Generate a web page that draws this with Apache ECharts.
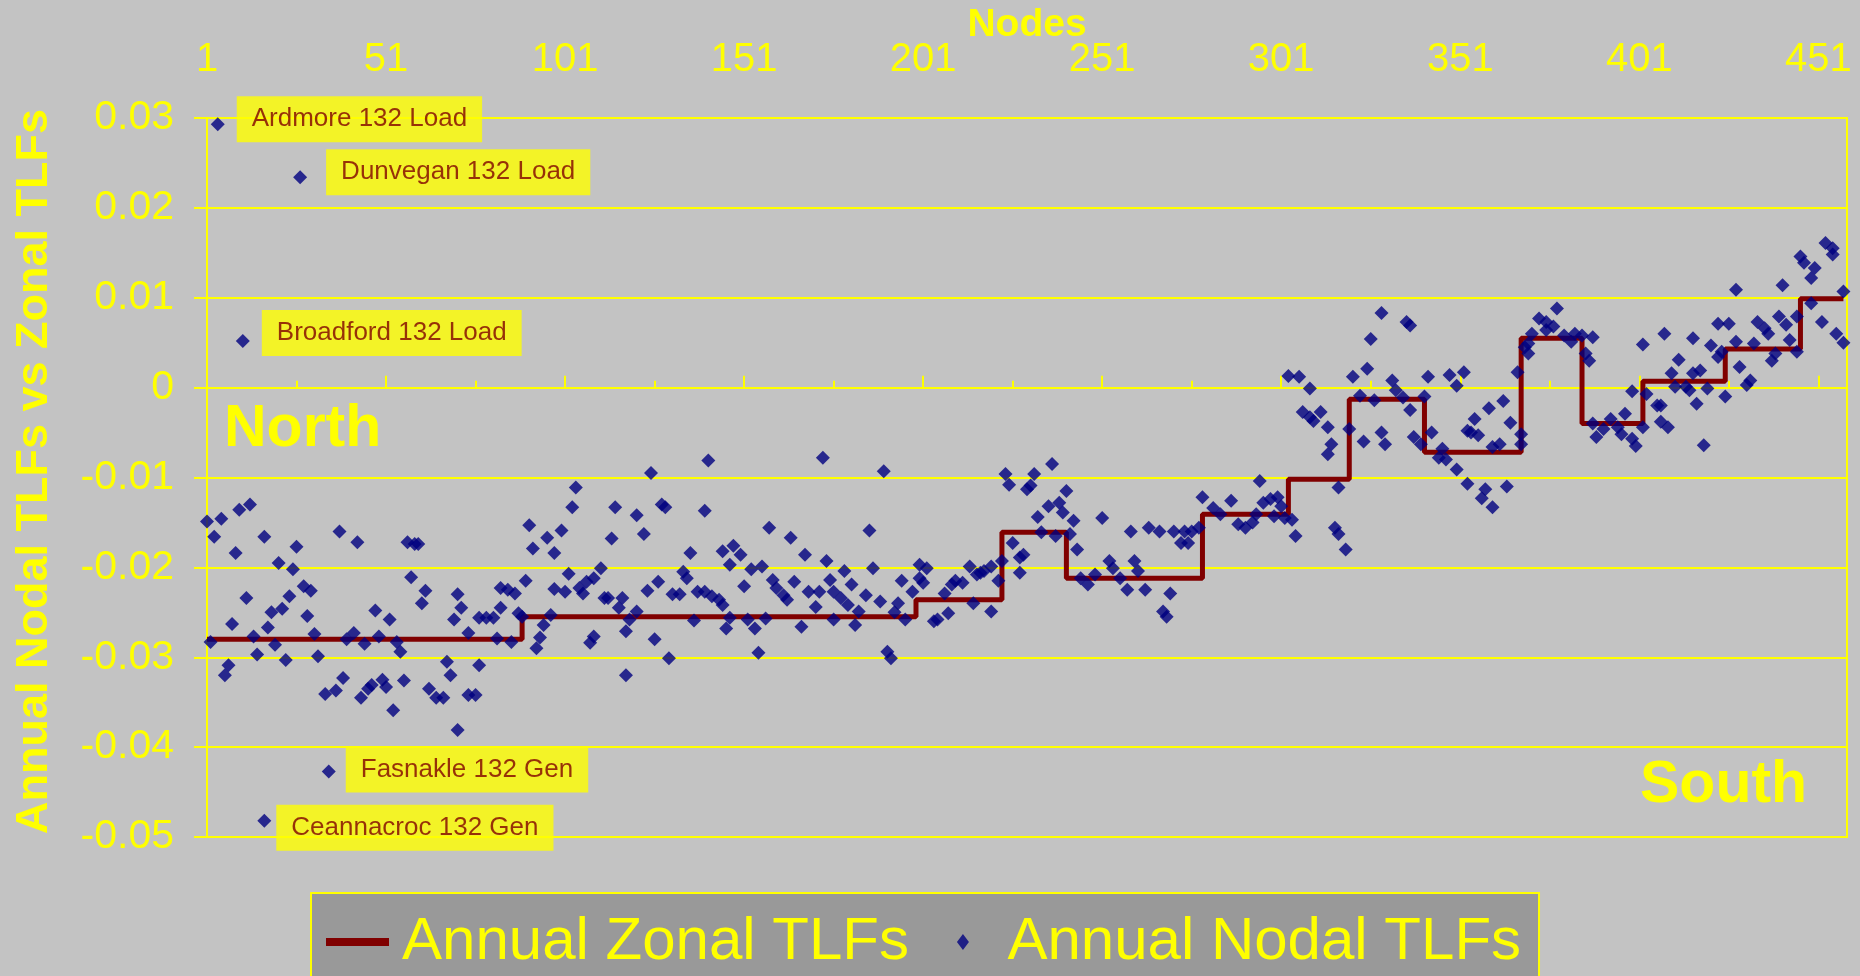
<!DOCTYPE html>
<html>
<head>
    <meta charset="utf-8"/>
    <style>
        html, body {
            height: 100%;
            margin: 0;
            padding: 0;
            background: #c3c3c3;
        }

        .container {
            width: 1860px;
            height: 976px;
        }
    </style>
</head>

<body>
<div id="main" class="container"></div>
<script src="https://cdn.jsdelivr.net/npm/echarts@6.0.0/dist/echarts.min.js"></script>
<script type="text/javascript">
// zonal TLFs: first node of each zone and its value
var zoneStart = [1, 89, 199, 223, 241, 279, 303, 320, 341, 368, 385, 402, 425, 446];
var zoneValue = [-0.0280, -0.0255, -0.0236, -0.0161, -0.0212, -0.0141, -0.0102, -0.0013, -0.0072, 0.0055, -0.0040, 0.0007, 0.0043, 0.0099];
var lastNode = 458;

// nodal TLFs, [node, TLF], split by node range
var nodal001to069 = [[1,-0.0149],[5,-0.0146],[3,-0.0166],[10,-0.0136],[13,-0.0130],[9,-0.0184],[17,-0.0166],[12,-0.0234],[8,-0.0263],[2,-0.0283],[21,-0.0195],[25,-0.0202],[26,-0.0177],[19,-0.0250],[22,-0.0246],[24,-0.0232],[28,-0.0221],[30,-0.0226],[29,-0.0254],[18,-0.0267],[14,-0.0277],[15,-0.0297],[20,-0.0286],[23,-0.0303],[31,-0.0274],[32,-0.0299],[6,-0.0320],[7,-0.0309],[38,-0.0160],[43,-0.0172],[40,-0.0280],[42,-0.0273],[45,-0.0285],[48,-0.0248],[52,-0.0258],[49,-0.0277],[54,-0.0283],[55,-0.0294],[57,-0.0172],[59,-0.0174],[60,-0.0174],[58,-0.0211],[62,-0.0226],[61,-0.0240],[39,-0.0323],[34,-0.0341],[37,-0.0337],[44,-0.0345],[46,-0.0335],[47,-0.0331],[50,-0.0325],[51,-0.0333],[56,-0.0326],[53,-0.0359],[63,-0.0335],[65,-0.0345],[67,-0.0345],[68,-0.0305],[69,-0.0320]];
var nodal070to149 = [[74,-0.0342],[76,-0.0342],[77,-0.0309],[71,-0.0381],[70,-0.0258],[72,-0.0245],[71,-0.0230],[74,-0.0273],[77,-0.0256],[79,-0.0256],[81,-0.0256],[82,-0.0279],[86,-0.0283],[83,-0.0245],[83,-0.0223],[85,-0.0225],[87,-0.0229],[90,-0.0215],[88,-0.0251],[89,-0.0255],[91,-0.0153],[92,-0.0179],[96,-0.0167],[98,-0.0184],[100,-0.0159],[103,-0.0133],[104,-0.0111],[93,-0.0290],[94,-0.0278],[95,-0.0264],[97,-0.0253],[98,-0.0224],[101,-0.0227],[102,-0.0207],[105,-0.0223],[106,-0.0229],[107,-0.0216],[109,-0.0212],[111,-0.0201],[112,-0.0234],[113,-0.0234],[108,-0.0284],[109,-0.0277],[114,-0.0168],[115,-0.0133],[117,-0.0234],[116,-0.0245],[119,-0.0258],[121,-0.0249],[118,-0.0271],[118,-0.0320],[121,-0.0142],[123,-0.0163],[125,-0.0095],[128,-0.0130],[129,-0.0133],[124,-0.0226],[127,-0.0216],[126,-0.0280],[130,-0.0301],[134,-0.0205],[135,-0.0212],[131,-0.0230],[133,-0.0230],[136,-0.0184],[137,-0.0259],[138,-0.0227],[140,-0.0227],[140,-0.0137],[141,-0.0081],[142,-0.0232],[144,-0.0236],[145,-0.0242],[145,-0.0182],[147,-0.0197],[148,-0.0176],[147,-0.0256],[146,-0.0268]];
var nodal150to227 = [[150,-0.0186],[151,-0.0221],[153,-0.0202],[156,-0.0199],[152,-0.0258],[154,-0.0268],[155,-0.0295],[158,-0.0156],[157,-0.0257],[159,-0.0214],[160,-0.0223],[162,-0.0231],[163,-0.0236],[164,-0.0167],[165,-0.0216],[168,-0.0186],[167,-0.0266],[169,-0.0227],[171,-0.0244],[172,-0.0227],[173,-0.0078],[174,-0.0193],[175,-0.0214],[176,-0.0227],[178,-0.0234],[179,-0.0204],[180,-0.0242],[181,-0.0219],[176,-0.0258],[182,-0.0264],[183,-0.0249],[185,-0.0231],[186,-0.0159],[187,-0.0201],[189,-0.0238],[190,-0.0093],[191,-0.0294],[192,-0.0301],[193,-0.0250],[194,-0.0240],[195,-0.0215],[196,-0.0258],[198,-0.0227],[200,-0.0212],[200,-0.0197],[202,-0.0201],[201,-0.0217],[204,-0.0260],[205,-0.0258],[207,-0.0229],[208,-0.0251],[209,-0.0219],[210,-0.0215],[212,-0.0217],[214,-0.0199],[216,-0.0208],[215,-0.0240],[217,-0.0206],[218,-0.0204],[220,-0.0199],[220,-0.0249],[222,-0.0215],[223,-0.0193],[224,-0.0096],[225,-0.0108],[226,-0.0173]];
var nodal228to288 = [[228,-0.0189],[229,-0.0186],[228,-0.0206],[230,-0.0113],[231,-0.0109],[232,-0.0096],[237,-0.0085],[236,-0.0132],[239,-0.0128],[240,-0.0139],[241,-0.0115],[243,-0.0148],[233,-0.0144],[234,-0.0161],[238,-0.0165],[242,-0.0163],[244,-0.0180],[245,-0.0212],[247,-0.0219],[249,-0.0208],[251,-0.0145],[253,-0.0193],[254,-0.0201],[256,-0.0212],[258,-0.0225],[259,-0.0160],[260,-0.0193],[261,-0.0204],[263,-0.0225],[264,-0.0156],[267,-0.0160],[271,-0.0160],[274,-0.0160],[276,-0.0160],[278,-0.0156],[273,-0.0173],[275,-0.0173],[270,-0.0229],[268,-0.0249],[269,-0.0255],[279,-0.0122],[282,-0.0134],[284,-0.0141],[287,-0.0126]];
var nodal289to347 = [[289,-0.0152],[291,-0.0156],[293,-0.0150],[294,-0.0141],[295,-0.0104],[296,-0.0128],[298,-0.0124],[300,-0.0122],[301,-0.0132],[299,-0.0143],[302,-0.0145],[304,-0.0147],[305,-0.0165],[303,0.0013],[306,0.0012],[309,-0.0001],[307,-0.0027],[309,-0.0033],[310,-0.0037],[312,-0.0027],[314,-0.0044],[315,-0.0063],[314,-0.0074],[317,-0.0111],[316,-0.0156],[317,-0.0163],[319,-0.0180],[320,-0.0046],[321,0.0012],[323,-0.0009],[325,0.0021],[326,0.0054],[329,0.0083],[324,-0.0060],[327,-0.0014],[329,-0.0050],[330,-0.0063],[332,0.0008],[333,-0.0003],[335,-0.0011],[336,0.0073],[337,0.0069],[337,-0.0025],[338,-0.0055],[340,-0.0063],[341,-0.0010],[342,0.0012],[343,-0.0050],[345,-0.0078],[347,-0.0080],[346,-0.0068]];
var nodal348to403 = [[348,0.0014],[350,0.0002],[352,0.0017],[350,-0.0091],[353,-0.0107],[358,-0.0113],[357,-0.0123],[360,-0.0133],[364,-0.0110],[355,-0.0035],[353,-0.0048],[354,-0.0050],[356,-0.0053],[359,-0.0023],[363,-0.0015],[365,-0.0039],[367,0.0017],[360,-0.0066],[362,-0.0063],[368,-0.0052],[368,-0.0063],[369,0.0045],[370,0.0038],[370,0.0049],[373,0.0077],[371,0.0060],[375,0.0064],[375,0.0073],[377,0.0068],[378,0.0088],[380,0.0058],[382,0.0051],[383,0.0060],[385,0.0058],[388,0.0056],[386,0.0038],[387,0.0030],[388,-0.0040],[389,-0.0055],[391,-0.0046],[393,-0.0035],[395,-0.0044],[396,-0.0052],[397,-0.0029],[399,-0.0057],[400,-0.0065],[402,-0.0044],[399,-0.0004],[402,0.0048],[403,-0.0007]];
var nodal404to458 = [[406,-0.0020],[407,-0.0020],[407,-0.0038],[409,-0.0044],[408,0.0060],[410,0.0016],[411,0.0001],[412,0.0031],[414,0.0001],[415,-0.0003],[416,0.0016],[416,0.0055],[418,0.0019],[417,-0.0018],[419,-0.0064],[420,-0.0001],[423,0.0071],[426,0.0071],[421,0.0047],[423,0.0034],[424,0.0040],[425,-0.0010],[428,0.0051],[428,0.0109],[429,0.0023],[431,0.0003],[432,0.0008],[433,0.0049],[434,0.0073],[436,0.0066],[437,0.0060],[438,0.0030],[439,0.0038],[440,0.0079],[442,0.0070],[441,0.0114],[443,0.0053],[445,0.0040],[445,0.0079],[446,0.0146],[447,0.0139],[449,0.0122],[450,0.0133],[449,0.0094],[452,0.0073],[453,0.0161],[455,0.0155],[455,0.0148],[456,0.0060],[458,0.0050],[458,0.0107]];

// outlying nodes that carry a name tag
var namedNodes = ['Ardmore 132 Load', 'Dunvegan 132 Load', 'Broadford 132 Load', 'Fasnakle 132 Gen', 'Ceannacroc 132 Gen'];
var namedNodeX = [4, 27, 11, 35, 17];
var namedNodeTLF = [0.0293, 0.0234, 0.0052, -0.0427, -0.0482];
// nudges for the name tags (pixels)
var tagShift = [[0, -5], [7, -5], [0, -8], [-2, -2], [-7, 7]];

// axes
var nodeMin = 1, nodeMax = 459, nodeStep = 50;
var tlfMin = -0.05, tlfMax = 0.03, tlfStep = 0.01;

var yellow = '#ffff00';
var fontName = '"Liberation Sans", Arial, sans-serif';

var myChart = echarts.init(document.getElementById('main'));

// step line for the zones
var zonalData = [];
for (var i = 0; i < zoneStart.length; i++) {
    zonalData.push([zoneStart[i], zoneValue[i]]);
}
zonalData.push([lastNode, zoneValue[zoneValue.length - 1]]);

var nodalData = [].concat(nodal001to069, nodal070to149, nodal150to227, nodal228to288,
    nodal289to347, nodal348to403, nodal404to458);
for (var j = 0; j < namedNodes.length; j++) {
    nodalData.push({
        value: [namedNodeX[j], namedNodeTLF[j]],
        label: {show: true, formatter: namedNodes[j], offset: tagShift[j]}
    });
}

var option = {
    backgroundColor: '#c3c3c3',
    animation: false,
    textStyle: {fontFamily: fontName},
    grid: {
        left: 207,
        right: 13,
        top: 118,
        bottom: 139,
        containLabel: false,
        outerBoundsMode: 'none',
        show: true,
        borderColor: yellow,
        borderWidth: 2,
        backgroundColor: 'transparent'
    },
    legend: {
        left: 311,
        top: 893,
        padding: [19, 18, 15, 15],
        backgroundColor: '#999999',
        borderColor: yellow,
        borderWidth: 2,
        itemWidth: 63,
        itemHeight: 16,
        itemGap: 48,
        selectedMode: false,
        textStyle: {
            color: yellow,
            fontSize: 60,
            fontFamily: fontName,
            padding: [0, 0, 0, 8]
        },
        data: [
            {name: 'Annual Zonal TLFs', icon: 'path://M0,0H63V8H0Z', itemStyle: {color: '#800000'}},
            {name: 'Annual Nodal TLFs', icon: 'path://M6,0L12,8L6,16L0,8Z', itemStyle: {color: '#000080'}}
        ]
    },
    graphic: [
        {
            type: 'text', x: 224, y: 430,
            style: {text: 'North', fill: yellow, fontSize: 59, fontWeight: 'bold', fontFamily: fontName, verticalAlign: 'middle'}
        },
        {
            type: 'text', x: 1640, y: 786,
            style: {text: 'South', fill: yellow, fontSize: 59, fontWeight: 'bold', fontFamily: fontName, verticalAlign: 'middle'}
        }
    ],
    xAxis: {
        type: 'value',
        position: 'top',
        min: nodeMin,
        max: nodeMax,
        interval: nodeStep,
        name: 'Nodes',
        nameLocation: 'middle',
        nameGap: 73,
        nameMoveOverlap: false,
        nameTextStyle: {color: yellow, fontSize: 39, fontWeight: 'bold', fontFamily: fontName},
        axisLine: {show: true, lineStyle: {color: yellow, width: 2}},
        axisTick: {show: true, length: 12, lineStyle: {color: yellow, width: 2}},
        minorTick: {show: true, splitNumber: 2, length: 7, lineStyle: {color: yellow, width: 2}},
        axisLabel: {color: yellow, fontSize: 40, margin: 38, showMaxLabel: false, fontFamily: fontName},
        splitLine: {show: false}
    },
    yAxis: {
        type: 'value',
        min: tlfMin,
        max: tlfMax,
        interval: tlfStep,
        name: 'Annual Nodal TLFs vs Zonal TLFs',
        nameLocation: 'middle',
        nameGap: 150,
        nameMoveOverlap: false,
        nameTextStyle: {color: yellow, fontSize: 45, fontWeight: 'bold', fontFamily: fontName, padding: [0, 0, 0, 12]},
        axisLine: {show: true, lineStyle: {color: yellow, width: 2}},
        axisTick: {show: true, length: 13, lineStyle: {color: yellow, width: 2}},
        axisLabel: {color: yellow, fontSize: 41, margin: 33, fontFamily: fontName},
        splitLine: {show: true, lineStyle: {color: yellow, width: 2}}
    },
    series: [
        {
            name: 'Annual Zonal TLFs',
            type: 'line',
            step: 'end',
            showSymbol: false,
            symbol: 'none',
            color: '#800000',
            lineStyle: {color: '#800000', width: 5},
            data: zonalData,
            z: 2
        },
        {
            name: 'Annual Nodal TLFs',
            type: 'scatter',
            symbol: 'diamond',
            symbolSize: 14,
            itemStyle: {color: '#000080'},
            label: {
                show: false,
                position: 'right',
                distance: 12,
                backgroundColor: yellow,
                color: '#800000',
                fontSize: 26,
                fontFamily: fontName,
                padding: [10, 15]
            },
            data: nodalData,
            z: 3
        }
    ]
};

myChart.setOption(option);
</script>
</body>
</html>
